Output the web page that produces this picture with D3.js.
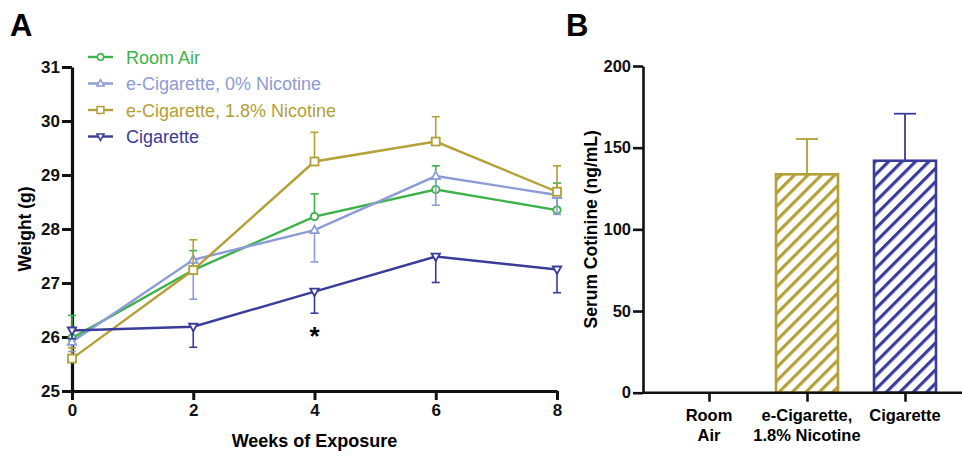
<!DOCTYPE html>
<html>
<head>
<meta charset="utf-8">
<script src="https://cdn.jsdelivr.net/npm/d3@7"></script>
<style>
  body { margin: 0; background: #fff; }
  svg { font-family: Arial, "Liberation Sans", Helvetica, sans-serif; }
</style>
</head>
<body>
<script>
// panel A: body weight over weeks of exposure
const weeks = [0, 2, 4, 6, 8];
const roomAir = [25.98, 27.24, 28.23, 28.73, 28.35];
const roomAirErr = [0.42, 0.36, 0.42, 0.44, 0.5];
const ecig0 = [25.91, 27.43, 27.98, 28.98, 28.63];
const ecig0Err = [0.18, 0.73, 0.59, 0.54, 0.36];
const ecig18 = [25.6, 27.24, 29.25, 29.62, 28.69];
const ecig18Err = [0.2, 0.56, 0.54, 0.46, 0.48];
const cigarette = [26.12, 26.19, 26.84, 27.49, 27.25];
const cigaretteErr = [0.15, 0.38, 0.4, 0.48, 0.43];
const weightTicks = [25, 26, 27, 28, 29, 30, 31];

// panel B: serum cotinine
const groups = ['Room Air', 'e-Cigarette, 1.8% Nicotine', 'Cigarette'];
const groupLines = [['Room', 'Air'], ['e-Cigarette,', '1.8% Nicotine'], ['Cigarette']];
const cotinine = [0, 133.7, 142];
const cotinineErr = [0, 21.6, 28.8];
const cotinineTicks = [0, 50, 100, 150, 200];

const green = '#3db24a', lightBlue = '#8d9bd6', gold = '#b3a036', navy = '#393c98';

const series = [
  {name: 'Room Air', values: roomAir, err: roomAirErr, dir: 1, color: green, symbol: 'circle'},
  {name: 'e-Cigarette, 0% Nicotine', values: ecig0, err: ecig0Err, dir: -1, color: lightBlue, symbol: 'up'},
  {name: 'e-Cigarette, 1.8% Nicotine', values: ecig18, err: ecig18Err, dir: 1, color: gold, symbol: 'square'},
  {name: 'Cigarette', values: cigarette, err: cigaretteErr, dir: -1, color: navy, symbol: 'down'}
];
const barColors = [green, gold, navy];

const svg = d3.select('body').append('svg')
  .attr('width', 962)
  .attr('height', 458);

// ---------- panel A ----------
const x = d3.scaleLinear().domain([0, 8]).range([72, 557]);
const y = d3.scaleLinear().domain([25, 31]).range([391, 67]);

const axisX = svg.append('g')
  .attr('transform', `translate(0,${y(25)})`)
  .call(d3.axisBottom(x).tickValues(weeks).tickSize(9).tickPadding(4).tickSizeOuter(0));
const axisY = svg.append('g')
  .attr('transform', `translate(${x(0)},0)`)
  .call(d3.axisLeft(y).tickValues(weightTicks).tickFormat(d3.format('d')).tickSize(10).tickPadding(2).tickSizeOuter(0));

[axisX, axisY].forEach(g => {
  g.select('.domain').attr('stroke', '#111').attr('stroke-width', 3.2);
  g.selectAll('.tick line').attr('stroke', '#111').attr('stroke-width', 3);
  g.selectAll('.tick text')
    .attr('fill', '#111')
    .style('font-size', '17px')
    .style('font-weight', 'bold')
    .style('font-family', 'Arial, "Liberation Sans", sans-serif');
});

svg.append('text')
  .attr('x', x(4)).attr('y', 447)
  .attr('text-anchor', 'middle')
  .style('font-size', '18px').style('font-weight', 'bold')
  .text('Weeks of Exposure');

svg.append('text')
  .attr('transform', `translate(31,${y(28)}) rotate(-90)`)
  .attr('text-anchor', 'middle')
  .style('font-size', '17.5px').style('font-weight', 'bold')
  .text('Weight (g)');

function marker(g, symbol, color) {
  if (symbol === 'circle') {
    g.append('circle').attr('r', 3.7);
  } else if (symbol === 'square') {
    g.append('rect').attr('x', -4).attr('y', -4).attr('width', 8).attr('height', 8);
  } else if (symbol === 'up') {
    g.append('path').attr('d', 'M0,-4.5L4.2,3L-4.2,3Z');
  } else {
    g.append('path').attr('d', 'M0,4.5L4.2,-3L-4.2,-3Z');
  }
  g.selectAll('*').attr('fill', '#fff').attr('stroke', color).attr('stroke-width', 1.8);
}

const line = d3.line()
  .x((d, i) => x(weeks[i]))
  .y(d => y(d));

series.forEach(s => {
  const g = svg.append('g');
  // error bars (one-sided)
  weeks.forEach((w, i) => {
    const y0 = y(s.values[i]);
    const y1 = y(s.values[i] + s.dir * s.err[i]);
    g.append('line')
      .attr('x1', x(w)).attr('x2', x(w))
      .attr('y1', y0).attr('y2', y1)
      .attr('stroke', s.color).attr('stroke-width', 1.6);
    g.append('line')
      .attr('x1', x(w) - 4).attr('x2', x(w) + 4)
      .attr('y1', y1).attr('y2', y1)
      .attr('stroke', s.color).attr('stroke-width', 1.6);
  });
  g.append('path')
    .datum(s.values)
    .attr('d', line)
    .attr('fill', 'none')
    .attr('stroke', s.color)
    .attr('stroke-width', 2.4);
  weeks.forEach((w, i) => {
    const m = g.append('g').attr('transform', `translate(${x(w)},${y(s.values[i])})`);
    marker(m, s.symbol, s.color);
  });
});

svg.append('text')
  .attr('x', x(4)).attr('y', 345)
  .attr('text-anchor', 'middle')
  .style('font-size', '26px').style('font-weight', 'bold')
  .text('*');

// legend
const legend = svg.append('g');
series.forEach((s, i) => {
  const ly = 57 + i * 26.5;
  const row = legend.append('g').attr('transform', `translate(0,${ly})`);
  row.append('line')
    .attr('x1', 88).attr('x2', 113)
    .attr('stroke', s.color).attr('stroke-width', 2.4);
  const m = row.append('g').attr('transform', 'translate(100.5,0) scale(0.85)');
  marker(m, s.symbol, s.color);
  row.append('text')
    .attr('x', 126).attr('y', 6.5)
    .attr('fill', s.color)
    .style('font-size', '18px')
    .text(s.name);
});

svg.append('text')
  .attr('x', 10).attr('y', 36)
  .style('font-size', '31px').style('font-weight', 'bold')
  .text('A');

// ---------- panel B ----------
const xb = d3.scalePoint().domain(groups).range([709, 905]);
const yb = d3.scaleLinear().domain([0, 200]).range([392.7, 66]);
const barW = 64;

const defs = svg.append('defs');
barColors.forEach((c, i) => {
  const p = defs.append('pattern')
    .attr('id', 'hatch' + i)
    .attr('patternUnits', 'userSpaceOnUse')
    .attr('width', 9.5).attr('height', 9.5)
    .attr('patternTransform', 'rotate(45)');
  p.append('rect').attr('width', 9.5).attr('height', 9.5).attr('fill', '#fff');
  p.append('line')
    .attr('x1', 0).attr('y1', 0).attr('x2', 0).attr('y2', 9.5)
    .attr('stroke', c).attr('stroke-width', 6.4);
});

groups.forEach((gName, i) => {
  if (cotinine[i] <= 0) return;
  const cx = xb(gName);
  const top = yb(cotinine[i]);
  const et = yb(cotinine[i] + cotinineErr[i]);
  svg.append('line')
    .attr('x1', cx).attr('x2', cx).attr('y1', top).attr('y2', et)
    .attr('stroke', barColors[i]).attr('stroke-width', 1.8);
  svg.append('line')
    .attr('x1', cx - 11).attr('x2', cx + 11).attr('y1', et).attr('y2', et)
    .attr('stroke', barColors[i]).attr('stroke-width', 1.8);
  svg.append('rect')
    .attr('x', cx - barW / 2 + 1).attr('y', top)
    .attr('width', barW - 2).attr('height', yb(0) - top)
    .attr('fill', `url(#hatch${i})`)
    .attr('stroke', barColors[i]).attr('stroke-width', 2.6);
});

const axisYB = svg.append('g')
  .attr('transform', 'translate(643,0)')
  .call(d3.axisLeft(yb).tickValues(cotinineTicks).tickSize(10).tickPadding(2).tickSizeOuter(0));
const axisXB = svg.append('g')
  .attr('transform', `translate(0,${yb(0)})`)
  .call(d3.axisBottom(xb).tickSize(9).tickSizeOuter(0).tickFormat(''));
axisXB.select('.domain').attr('d', `M643,0H962`);

[axisYB, axisXB].forEach(g => {
  g.select('.domain').attr('stroke', '#111').attr('stroke-width', 2.6);
  g.selectAll('.tick line').attr('stroke', '#111').attr('stroke-width', 2.6);
  g.selectAll('.tick text')
    .attr('fill', '#111')
    .style('font-size', '16.5px')
    .style('font-weight', 'bold')
    .style('font-family', 'Arial, "Liberation Sans", sans-serif');
});

groups.forEach((gName, i) => {
  const t = svg.append('text')
    .attr('text-anchor', 'middle')
    .style('font-size', '16.5px').style('font-weight', 'bold');
  groupLines[i].forEach((ln, j) => {
    t.append('tspan').attr('x', xb(gName)).attr('y', 421 + j * 19.5).text(ln);
  });
});

svg.append('text')
  .attr('transform', `translate(597,${yb(100)}) rotate(-90)`)
  .attr('text-anchor', 'middle')
  .style('font-size', '17.5px').style('font-weight', 'bold')
  .text('Serum Cotinine (ng/mL)');

svg.append('text')
  .attr('x', 566).attr('y', 36)
  .style('font-size', '31px').style('font-weight', 'bold')
  .text('B');
</script>
</body>
</html>
